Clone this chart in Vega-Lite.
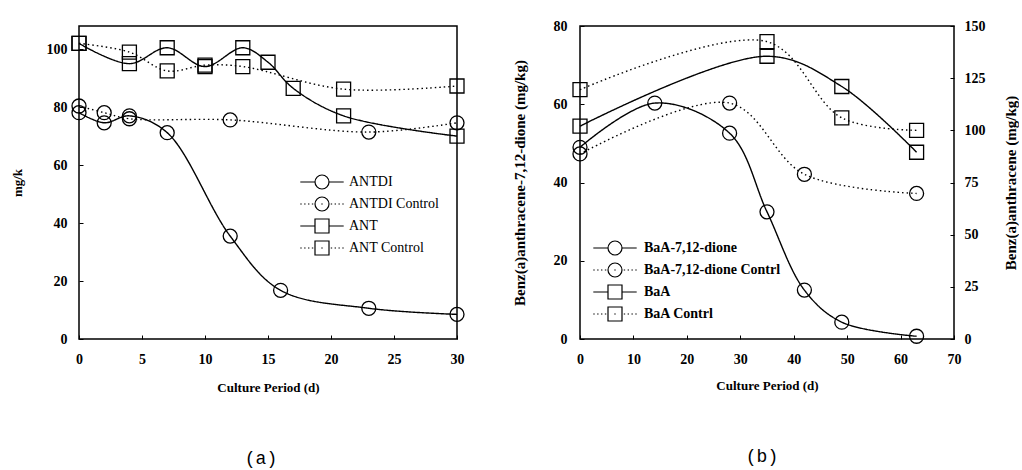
{
  "$schema": "https://vega.github.io/schema/vega-lite/v6.json",
  "background": "white",
  "padding": {"left": 10, "top": 12, "right": 0, "bottom": 0},
  "config": {
    "font": "Liberation Serif",
    "view": {"stroke": "black", "strokeWidth": 1.5},
    "axis": {
      "domain": false, "grid": false, "ticks": true, "tickSize": -4, "tickColor": "black", "tickWidth": 1,
      "labelFont": "Liberation Serif", "labelFontSize": 14, "labelFontWeight": "bold", "labelColor": "black",
      "titleFont": "Liberation Serif", "titleFontWeight": "bold", "titleColor": "black", "labelOverlap": false, "labelFlush": false
    },
    "legend": {
      "labelFont": "Liberation Serif", "labelFontSize": 14, "labelColor": "black", "labelLimit": 400,
      "symbolStrokeColor": "black", "symbolStrokeWidth": 1.2, "symbolFillColor": "transparent",
      "symbolSize": 196, "rowPadding": 2, "padding": 0, "symbolOpacity": 1
    },
    "title": {"font": "Liberation Mono", "fontSize": 18, "fontWeight": "normal", "color": "black"}
  },
  "datasets": {
    "a": [
      {"day": 0, "value": 78.1, "series": "ANTDI"},
      {"day": 2, "value": 74.6, "series": "ANTDI"},
      {"day": 4, "value": 77, "series": "ANTDI"},
      {"day": 7, "value": 71.2, "series": "ANTDI"},
      {"day": 12, "value": 35.5, "series": "ANTDI"},
      {"day": 16, "value": 16.8, "series": "ANTDI"},
      {"day": 23, "value": 10.6, "series": "ANTDI"},
      {"day": 30, "value": 8.5, "series": "ANTDI"},
      {"day": 0, "value": 80.4, "series": "ANTDI Control"},
      {"day": 2, "value": 78.1, "series": "ANTDI Control"},
      {"day": 4, "value": 76, "series": "ANTDI Control"},
      {"day": 12, "value": 75.6, "series": "ANTDI Control"},
      {"day": 23, "value": 71.4, "series": "ANTDI Control"},
      {"day": 30, "value": 74.6, "series": "ANTDI Control"},
      {"day": 0, "value": 102, "series": "ANT"},
      {"day": 4, "value": 95, "series": "ANT"},
      {"day": 7, "value": 100.5, "series": "ANT"},
      {"day": 10, "value": 94, "series": "ANT"},
      {"day": 13, "value": 100.5, "series": "ANT"},
      {"day": 15, "value": 95.5, "series": "ANT"},
      {"day": 17, "value": 86.5, "series": "ANT"},
      {"day": 21, "value": 77, "series": "ANT"},
      {"day": 30, "value": 70, "series": "ANT"},
      {"day": 0, "value": 102, "series": "ANT Control"},
      {"day": 4, "value": 99, "series": "ANT Control"},
      {"day": 7, "value": 92.5, "series": "ANT Control"},
      {"day": 10, "value": 94.5, "series": "ANT Control"},
      {"day": 13, "value": 94, "series": "ANT Control"},
      {"day": 21, "value": 86.2, "series": "ANT Control"},
      {"day": 30, "value": 87.3, "series": "ANT Control"}
    ],
    "b": [
      {"day": 0, "value": 49, "series": "BaA-7,12-dione"},
      {"day": 14, "value": 60.3, "series": "BaA-7,12-dione"},
      {"day": 28, "value": 52.6, "series": "BaA-7,12-dione"},
      {"day": 35, "value": 32.5, "series": "BaA-7,12-dione"},
      {"day": 42, "value": 12.5, "series": "BaA-7,12-dione"},
      {"day": 49, "value": 4.3, "series": "BaA-7,12-dione"},
      {"day": 63, "value": 0.7, "series": "BaA-7,12-dione"},
      {"day": 0, "value": 47.3, "series": "BaA-7,12-dione Contrl"},
      {"day": 28, "value": 60.3, "series": "BaA-7,12-dione Contrl"},
      {"day": 42, "value": 42.1, "series": "BaA-7,12-dione Contrl"},
      {"day": 63, "value": 37.2, "series": "BaA-7,12-dione Contrl"},
      {"day": 0, "value": 102, "series": "BaA"},
      {"day": 35, "value": 135.5, "series": "BaA"},
      {"day": 49, "value": 121, "series": "BaA"},
      {"day": 63, "value": 89.5, "series": "BaA"},
      {"day": 0, "value": 119.5, "series": "BaA Contrl"},
      {"day": 35, "value": 142.5, "series": "BaA Contrl"},
      {"day": 49, "value": 106, "series": "BaA Contrl"},
      {"day": 63, "value": 100, "series": "BaA Contrl"}
    ]
  },
  "hconcat": [
    {
      "title": {"text": "(a)", "orient": "bottom", "frame": "group", "anchor": "middle", "dx": -7, "offset": 56},
      "width": 378,
      "height": 313,
      "data": {"name": "a"},
      "layer": [
        {
          "mark": {"type": "line", "interpolate": "catmull-rom", "color": "black", "strokeWidth": 1.4},
          "encoding": {
            "x": {"field": "day", "type": "quantitative", "scale": {"domain": [0, 30], "nice": false},
                  "axis": {"values": [0, 5, 10, 15, 20, 25, 30], "title": "Culture Period (d)", "labelPadding": 17, "titleFontSize": 13, "titlePadding": 15}},
            "y": {"field": "value", "type": "quantitative", "scale": {"domain": [0, 108], "nice": false},
                  "axis": {"values": [0, 20, 40, 60, 80, 100, 108], "title": "mg/k", "labelPadding": 16, "titleFontSize": 13, "titlePadding": 22,
                           "labelExpr": "datum.value > 104 ? ' ' : datum.label",
                           "labelFontSize": {"condition": {"test": "datum.value > 104", "value": 26}, "value": 14},
                           "tickOpacity": {"condition": {"test": "datum.value > 104", "value": 0}, "value": 1}}},
            "strokeDash": {"field": "series", "type": "nominal",
                  "scale": {"domain": ["ANTDI", "ANT", "ANTDI Control", "ANT Control"], "range": [[1, 0], [1, 0], [1.5, 3], [1.5, 3]]},
                  "legend": null}
          }
        },
        {
          "transform": [{"filter": {"field": "series", "oneOf": ["ANTDI", "ANTDI Control"]}}],
          "mark": {"type": "point", "shape": "circle", "filled": false, "size": 196, "color": "black", "strokeWidth": 1.3, "opacity": 1},
          "encoding": {
            "x": {"field": "day", "type": "quantitative"},
            "y": {"field": "value", "type": "quantitative"}
          }
        },
        {
          "transform": [{"filter": {"field": "series", "oneOf": ["ANT", "ANT Control"]}}],
          "mark": {"type": "point", "shape": "square", "filled": false, "size": 196, "color": "black", "strokeWidth": 1.3, "opacity": 1},
          "encoding": {
            "x": {"field": "day", "type": "quantitative"},
            "y": {"field": "value", "type": "quantitative"}
          }
        },
        {
          "mark": {"type": "point", "filled": false, "size": 196, "color": "black", "opacity": 0},
          "encoding": {
            "x": {"field": "day", "type": "quantitative"},
            "y": {"field": "value", "type": "quantitative"},
            "shape": {"field": "series", "type": "nominal",
              "scale": {"domain": ["ANTDI", "ANTDI Control", "ANT", "ANT Control"],
                "range": [
                  "M -3.1 0 L -1 0 M 1 0 L 3.1 0 M 1 0 A 1 1 0 1 1 -1 0 A 1 1 0 1 1 1 0 Z",
                  "M -3.1 0 L -2.9 0 M -2.55 0 L -2.35 0 M -2 0 L -1.8 0 M -1.45 0 L -1.25 0 M 1.25 0 L 1.45 0 M 1.8 0 L 2 0 M 2.35 0 L 2.55 0 M 2.9 0 L 3.1 0 M -0.1 0 L 0.1 0 M 1 0 A 1 1 0 1 1 -1 0 A 1 1 0 1 1 1 0 Z",
                  "M -3.1 0 L -1 0 M 1 0 L 3.1 0 M -1 -1 L 1 -1 L 1 1 L -1 1 Z",
                  "M -3.1 0 L -2.9 0 M -2.55 0 L -2.35 0 M -2 0 L -1.8 0 M -1.45 0 L -1.25 0 M 1.25 0 L 1.45 0 M 1.8 0 L 2 0 M 2.35 0 L 2.55 0 M 2.9 0 L 3.1 0 M -0.1 0 L 0.1 0 M -1 -1 L 1 -1 L 1 1 L -1 1 Z"
                ]},
              "legend": {"orient": "none", "legendX": 235, "legendY": 148, "title": null, "labelOffset": 19}
            }
          }
        }
      ]
    },
    {
      "title": {"text": "(b)", "orient": "bottom", "frame": "group", "anchor": "middle", "dx": -5, "offset": 56},
      "width": 374,
      "height": 313,
      "data": {"name": "b"},
      "layer": [
        {
          "layer": [
            {
              "transform": [{"filter": {"field": "series", "oneOf": ["BaA-7,12-dione", "BaA-7,12-dione Contrl"]}}],
              "mark": {"type": "line", "interpolate": "catmull-rom", "color": "black", "strokeWidth": 1.4},
              "encoding": {
                "x": {"field": "day", "type": "quantitative", "scale": {"domain": [0, 70], "nice": false},
                      "axis": {"values": [0, 10, 20, 30, 40, 50, 60, 70], "title": "Culture Period (d)", "labelPadding": 17, "titleFontSize": 13, "titlePadding": 13}},
                "y": {"field": "value", "type": "quantitative", "scale": {"domain": [0, 80], "nice": false},
                      "axis": {"orient": "left", "values": [0, 20, 40, 60, 80], "title": "Benz(a)anthracene-7,12-dione (mg/kg)", "labelPadding": 17, "titleFontSize": 15, "titlePadding": 26}},
                "strokeDash": {"field": "series", "type": "nominal",
                      "scale": {"domain": ["BaA-7,12-dione", "BaA", "BaA-7,12-dione Contrl", "BaA Contrl"], "range": [[1, 0], [1, 0], [1.5, 3], [1.5, 3]]},
                      "legend": null}
              }
            },
            {
              "transform": [{"filter": {"field": "series", "oneOf": ["BaA-7,12-dione", "BaA-7,12-dione Contrl"]}}],
              "mark": {"type": "point", "shape": "circle", "filled": false, "size": 196, "color": "black", "strokeWidth": 1.3, "opacity": 1},
              "encoding": {
                "x": {"field": "day", "type": "quantitative"},
                "y": {"field": "value", "type": "quantitative"}
              }
            },
            {
              "transform": [{"filter": {"field": "series", "oneOf": ["BaA-7,12-dione", "BaA-7,12-dione Contrl"]}}],
              "mark": {"type": "point", "filled": false, "size": 196, "color": "black", "opacity": 0},
              "encoding": {
                "x": {"field": "day", "type": "quantitative"},
                "y": {"field": "value", "type": "quantitative"},
                "shape": {"field": "series", "type": "nominal",
                  "scale": {"domain": ["BaA-7,12-dione", "BaA-7,12-dione Contrl", "BaA", "BaA Contrl"],
                    "range": [
                      "M -3.1 0 L -1 0 M 1 0 L 3.1 0 M 1 0 A 1 1 0 1 1 -1 0 A 1 1 0 1 1 1 0 Z",
                      "M -3.1 0 L -2.9 0 M -2.55 0 L -2.35 0 M -2 0 L -1.8 0 M -1.45 0 L -1.25 0 M 1.25 0 L 1.45 0 M 1.8 0 L 2 0 M 2.35 0 L 2.55 0 M 2.9 0 L 3.1 0 M -0.1 0 L 0.1 0 M 1 0 A 1 1 0 1 1 -1 0 A 1 1 0 1 1 1 0 Z",
                      "M -3.1 0 L -1 0 M 1 0 L 3.1 0 M -1 -1 L 1 -1 L 1 1 L -1 1 Z",
                      "M -3.1 0 L -2.9 0 M -2.55 0 L -2.35 0 M -2 0 L -1.8 0 M -1.45 0 L -1.25 0 M 1.25 0 L 1.45 0 M 1.8 0 L 2 0 M 2.35 0 L 2.55 0 M 2.9 0 L 3.1 0 M -0.1 0 L 0.1 0 M -1 -1 L 1 -1 L 1 1 L -1 1 Z"
                    ]},
                  "legend": {"orient": "none", "legendX": 27, "legendY": 214, "title": null, "labelOffset": 21, "labelFontWeight": "bold"}
                }
              }
            }
          ]
        },
        {
          "layer": [
            {
              "transform": [{"filter": {"field": "series", "oneOf": ["BaA", "BaA Contrl"]}}],
              "mark": {"type": "line", "interpolate": "catmull-rom", "color": "black", "strokeWidth": 1.4},
              "encoding": {
                "x": {"field": "day", "type": "quantitative"},
                "y": {"field": "value", "type": "quantitative", "scale": {"domain": [0, 150], "nice": false},
                      "axis": {"orient": "right", "values": [0, 25, 50, 75, 100, 125, 150], "title": "Benz(a)anthracene (mg/kg)", "labelPadding": 14, "titleFontSize": 15, "titlePadding": 18, "titleAngle": 270, "titleBaseline": "top"}},
                "strokeDash": {"field": "series", "type": "nominal", "legend": null}
              }
            },
            {
              "transform": [{"filter": {"field": "series", "oneOf": ["BaA", "BaA Contrl"]}}],
              "mark": {"type": "point", "shape": "square", "filled": false, "size": 196, "color": "black", "strokeWidth": 1.3, "opacity": 1},
              "encoding": {
                "x": {"field": "day", "type": "quantitative"},
                "y": {"field": "value", "type": "quantitative"}
              }
            }
          ]
        }
      ],
      "resolve": {"scale": {"y": "independent"}}
    }
  ],
  "spacing": 31,
  "resolve": {"scale": {"shape": "independent", "strokeDash": "independent"}, "legend": {"shape": "independent", "strokeDash": "independent"}}
}
